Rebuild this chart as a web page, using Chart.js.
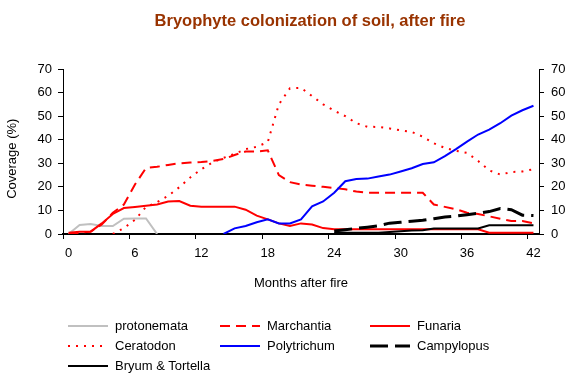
<!DOCTYPE html>
<html><head><meta charset="utf-8">
<script src="https://cdn.jsdelivr.net/npm/chart.js@4"></script>
<style>
html,body{margin:0;padding:0;background:#fff;}
#wrap{position:relative;width:576px;height:382px;}
#legend{position:absolute;left:0;top:0;width:576px;height:382px;pointer-events:none;font:13px 'Liberation Sans',Arial,sans-serif;color:#000;}
.item{position:absolute;height:20px;display:flex;align-items:center;white-space:nowrap;}
.item svg{margin-right:7px;display:block;}
</style></head><body>
<div id="wrap"><canvas id="c" width="576" height="382"></canvas><div id="legend"></div></div>
<script>
const months = ['0','1','2','3','4','5','6','7','8','9','10','11','12','13','14','15','16','17','18','19','20','21','22','23','24','25','26','27','28','29','30','31','32','33','34','35','36','37','38','39','40','41','42'];
const yTicks = [0,10,20,30,40,50,60,70];

const protonemata = [0,3.8,4.2,3.4,3.4,6.5,6.6,6.6,0,null,null,null,null,null,null,null,null,null,null,null,null,null,null,null,null,null,null,null,null,null,null,null,null,null,null,null,null,null,null,null,null,null,null];
const marchantia = [0,0.5,1,4,9,12.5,21,28,28.5,29.3,30,30.3,30.5,31,31.8,33.5,35,35,35.5,25,22,21,20.5,20,19.5,19,18,17.5,17.5,17.5,17.5,17.5,17.5,12.5,11.5,10.5,9,8.5,7.5,6.5,5.5,5.5,4.5];
const funaria = [0.5,1,1,4.5,8.5,11,11.5,12,12.5,13.8,14,12,11.6,11.6,11.6,11.6,10.3,7.8,6.2,4.5,3.4,4.5,4,2.5,2,2,2,2,2,2,2,2,2,2,2,2,2,2,0.5,0.5,0.5,0.5,0.5];
const ceratodon = [null,null,null,null,0,2.5,6,11.5,13.5,16.2,19.8,24,27.5,30.3,32.3,34,36,37,39,55,61.8,62,58.5,55,52.3,50,47,45.5,45.4,44.8,44,43.3,41.3,38.5,36.5,35.3,34.4,31,27,25.2,26.3,26.5,27.5];
const polytrichum = [null,null,null,null,null,null,null,null,null,null,null,null,null,null,0,2.4,3.4,5,6.2,4.5,4.5,6.2,11.7,13.8,17.5,22.4,23.3,23.5,24.4,25.2,26.5,27.9,29.7,30.4,33,36,39.2,42.2,44.3,47,50.2,52.5,54.4];
const campylopus = [null,null,null,null,null,null,null,null,null,null,null,null,null,null,null,null,null,null,null,null,null,null,null,null,1.3,1.8,2.4,2.9,3.5,4.6,5,5.4,5.8,6.5,7.2,7.6,8.2,8.8,9.5,10.8,10.3,8,7.8];
const bryum = [null,null,null,null,null,null,null,null,null,null,null,null,null,null,null,null,null,null,null,null,null,null,null,null,0.5,0.5,0.5,0.5,0.5,0.8,1.2,1.5,1.6,2.3,2.3,2.3,2.3,2.3,3.7,3.7,3.7,3.7,3.7];

const FONT = "'Liberation Sans', Arial, sans-serif";
const series = [
  {label:'protonemata', data:protonemata, color:'#c0c0c0', dash:[], width:2},
  {label:'Marchantia', data:marchantia, color:'#ff0000', dash:[10,6], width:2},
  {label:'Funaria', data:funaria, color:'#ff0000', dash:[], width:2},
  {label:'Ceratodon', data:ceratodon, color:'#ff0000', dash:[2,6], width:2},
  {label:'Polytrichum', data:polytrichum, color:'#0000ff', dash:[], width:2},
  {label:'Campylopus', data:campylopus, color:'#000000', dash:[18,7], width:3},
  {label:'Bryum & Tortella', data:bryum, color:'#000000', dash:[], width:2}
];

const titlePlugin = {
  id:'titleText',
  afterDraw(chart){
    const ctx = chart.ctx;
    ctx.save();
    ctx.font = "bold 16.5px " + FONT;
    ctx.fillStyle = '#993300';
    ctx.textAlign = 'center';
    ctx.textBaseline = 'middle';
    ctx.fillText('Bryophyte colonization of soil, after fire', 310, 21);
    ctx.restore();
  }
};

new Chart(document.getElementById('c'), {
  type:'line',
  data:{
    labels: months,
    datasets: series.map((s,i)=>({
      label:s.label, data:s.data, borderColor:s.color, backgroundColor:s.color,
      borderDash:s.dash, borderWidth:s.width, pointRadius:0, tension:0,
      fill:false, spanGaps:false, order: series.length - i, yAxisID:'y'
    }))
  },
  options:{
    responsive:false, animation:false,
    layout:{padding:{top:69,left:0,right:0,bottom:91}},
    plugins:{legend:{display:false}, tooltip:{enabled:false}, title:{display:false}},
    scales:{
      x:{
        type:'category', offset:true,
        afterFit(s){ s.height = 57; },
        grid:{display:true, offset:true, drawOnChartArea:false, drawTicks:true, tickLength:5,
          tickColor:(c)=> (c.index % 6 === 0 ? '#000' : 'rgba(0,0,0,0)'), lineWidth:1},
        border:{display:true, color:'#000', width:2},
        ticks:{autoSkip:false, maxRotation:0, minRotation:0, padding:7, color:'#000',
          font:{family:FONT, size:13},
          callback:function(v, i){ return i % 6 === 0 ? months[i] : ''; }},
        title:{display:true, text:'Months after fire', color:'#000', font:{family:FONT, size:13}, padding:{top:0,bottom:0}}
      },
      y:{
        type:'linear', position:'left', min:0, max:70,
        afterFit(s){ s.width = 63; },
        afterBuildTicks(s){ s.ticks = yTicks.map(v=>({value:v})); },
        grid:{drawOnChartArea:false, drawTicks:true, tickLength:5, tickColor:'#000'},
        border:{display:true, color:'#000', width:1},
        ticks:{padding:6, color:'#000', font:{family:FONT, size:13}},
        title:{display:true, text:'Coverage (%)    ', color:'#000', font:{family:FONT, size:13}, padding:{top:5,bottom:0}}
      },
      y2:{
        type:'linear', position:'right', min:0, max:70, display:true,
        afterFit(s){ s.width = 37; },
        afterBuildTicks(s){ s.ticks = yTicks.map(v=>({value:v})); },
        grid:{drawOnChartArea:false, drawTicks:true, tickLength:5, tickColor:'#000'},
        border:{display:true, color:'#000', width:1},
        ticks:{padding:7, color:'#000', font:{family:FONT, size:13}}
      }
    }
  },
  plugins:[titlePlugin]
});

// HTML legend (three columns)
const cols = [68, 220, 370];
const rows = [325.7, 345.7, 365.7];
const leg = document.getElementById('legend');
series.forEach((s,i)=>{
  const col = i % 3, row = Math.floor(i / 3);
  const d = document.createElement('div');
  d.className = 'item';
  d.style.left = cols[col] + 'px';
  d.style.top = (rows[row] - 10) + 'px';
  const dash = s.dash.length ? ` stroke-dasharray="${s.dash.join(' ')}"` : '';
  d.innerHTML = `<svg width="40" height="6"><line x1="0" y1="3" x2="40" y2="3" stroke="${s.color}" stroke-width="${s.width}"${dash}/></svg><span>${s.label.replace('&','&amp;')}</span>`;
  leg.appendChild(d);
});
</script>
</body></html>
